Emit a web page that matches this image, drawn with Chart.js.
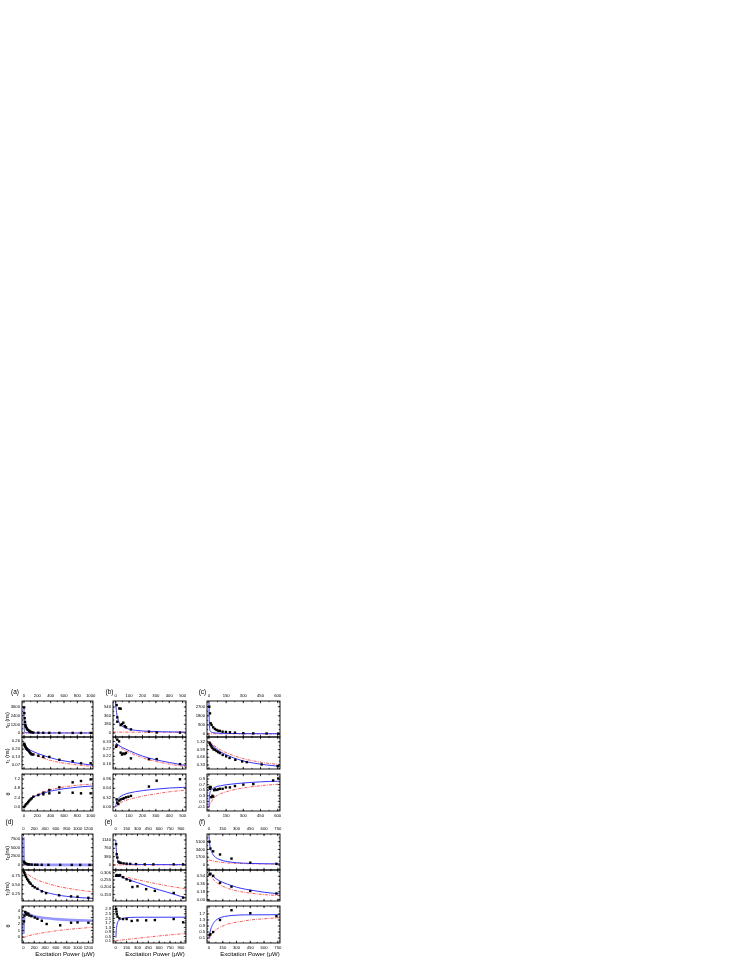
<!DOCTYPE html>
<html><head><meta charset="utf-8">
<script src="https://cdn.jsdelivr.net/npm/chart.js@4.4.0/dist/chart.umd.min.js"></script>
<style>
html,body{margin:0;padding:0;background:#fff;}
#wrap{position:relative;width:747px;height:967px;overflow:hidden;font-family:"Liberation Sans",Arial,sans-serif;}
#wrap canvas{position:absolute;}
.lbl{position:absolute;white-space:nowrap;color:#000;line-height:1;}
.lbl sub{font-size:72%;vertical-align:-0.25em;line-height:0;}
</style></head><body><div id="wrap"></div>
<script>
// ---------------- DATA ----------------
// Panel (a)
const a_xTicks = [0,200,400,600,800,1000];
const a_tauD_ticks = [0,1200,2400,3600];
const a_tauD_labels = ['0','1200','2400','3600'];
const a_tauD_pts = [[2,3550],[5,2750],[10,2050],[15,1550],[20,1150],[25,950],[30,850],[40,650],[50,500],[65,400],[80,280],[90,200],[100,150],[115,100],[140,60],[215,40],[290,30],[380,25],[530,20],[730,20],[855,15],[1000,15]];
const a_tauD_blue = [[0,3600],[1,2500],[2,1500],[3,800],[5,350],[8,150],[15,70],[40,35],[150,15],[1035,5]];
const a_tauD_red = [[-30,10],[1035,10]];
const a_tau1_ticks = [0.065,0.13,0.195,0.26];
const a_tau1_labels = ['0.07','0.13','0.20','0.26'];
const a_tau1_pts = [[2,0.24],[5,0.235],[10,0.226],[15,0.22],[20,0.215],[30,0.202],[40,0.197],[50,0.19],[65,0.183],[80,0.174],[90,0.165],[100,0.159],[115,0.15],[140,0.15],[215,0.14],[290,0.13],[380,0.13],[530,0.106],[730,0.094],[855,0.077],[1000,0.077]];
const a_tau1_blue = [[0,0.245],[25,0.22],[50,0.205],[100,0.185],[200,0.16],[300,0.14],[400,0.122],[500,0.108],[600,0.097],[700,0.087],[800,0.078],[900,0.07],[1000,0.063],[1035,0.06]];
const a_tau1_red = [[0,0.24],[25,0.21],[50,0.195],[100,0.17],[200,0.14],[300,0.118],[400,0.1],[500,0.088],[600,0.078],[700,0.07],[800,0.063],[900,0.057],[1000,0.052],[1035,0.05]];
const a_th_ticks = [0,2.4,4.8,7.2];
const a_th_labels = ['0.0','2.4','4.8','7.2'];
const a_th_pts = [[2,0.0],[15,0.33],[30,0.69],[49,0.94],[64,1.29],[79,1.63],[100,1.97],[115,2.23],[140,2.66],[215,3.08],[290,3.68],[290,3.26],[380,4.37],[380,3.52],[530,5.06],[530,3.68],[730,6.34],[730,3.68],[855,6.68],[855,3.52],[1000,7.11],[1000,3.52]];
const a_th_blue = [[0,0],[25,0.6],[50,1.2],[100,2.0],[150,2.6],[200,3.0],[300,3.6],[400,4.1],[500,4.4],[600,4.7],[700,4.9],[800,5.1],[900,5.25],[1035,5.4]];
const a_th_red = [[0,0],[25,0.65],[50,1.25],[100,2.1],[150,2.75],[200,3.2],[300,3.9],[400,4.45],[500,4.85],[600,5.15],[700,5.4],[800,5.6],[900,5.75],[1035,5.9]];

// Panel (b)
const b_xTicks = [0,100,200,300,400,500];
const b_tauD_ticks = [0,180,360,540];
const b_tauD_labels = ['0','180','360','540'];
const b_tauD_pts = [[7,580],[27,510],[37,505],[12,325],[12,235],[37,165],[47,185],[57,215],[67,145],[77,120],[114,75],[248,28],[306,10],[480,8]];
const b_tauD_blue = [[0,640],[3,520],[7,420],[12,340],[20,260],[30,200],[45,150],[70,110],[100,80],[150,55],[250,35],[350,25],[525,18]];
const b_tauD_red = [[-20,18],[525,15]];
const b_tau1_ticks = [0.165,0.22,0.275,0.33];
const b_tau1_labels = ['0.16','0.22','0.27','0.33'];
const b_tau1_pts = [[3,0.29],[7,0.30],[12,0.343],[25,0.33],[37,0.247],[47,0.233],[57,0.241],[67,0.237],[77,0.245],[114,0.205],[248,0.199],[306,0.2],[480,0.163]];
const b_tau1_blue = [[0,0.318],[25,0.3],[50,0.285],[100,0.262],[200,0.222],[300,0.195],[400,0.175],[500,0.157],[525,0.153]];
const b_tau1_red = [[0,0.306],[25,0.29],[50,0.275],[100,0.25],[200,0.21],[300,0.183],[400,0.163],[500,0.148],[525,0.145]];
const b_th_ticks = [0,0.32,0.64,0.96];
const b_th_labels = ['0.00','0.32','0.64','0.96'];
const b_th_pts = [[7,0.26],[12,0.15],[20,0.10],[27,0.22],[37,0.26],[52,0.28],[62,0.30],[77,0.33],[95,0.35],[114,0.38],[248,0.70],[306,0.90],[480,0.95]];
const b_th_blue = [[0,0.0],[5,0.15],[15,0.27],[30,0.34],[60,0.42],[100,0.48],[200,0.56],[300,0.61],[400,0.65],[500,0.67],[525,0.68]];
const b_th_red = [[0,0.0],[20,0.1],[50,0.18],[100,0.26],[200,0.37],[300,0.45],[400,0.52],[525,0.58]];

// Panel (c)
const c_xTicks = [0,150,300,450,600];
const c_tauD_ticks = [0,900,1800,2700];
const c_tauD_labels = ['0','900','1800','2700'];
const c_tauD_pts = [[3,2700],[9,2040],[15,1060],[23,890],[37,660],[52,500],[66,400],[81,330],[95,300],[119,230],[148,200],[183,170],[227,130],[300,80],[387,60],[503,50],[605,40]];
const c_tauD_blue = [[0,3100],[1,2600],[2,1900],[3,1300],[5,700],[8,400],[15,230],[30,150],[60,100],[150,60],[400,35],[620,25]];
const c_tauD_red = [[-17,20],[620,20]];
const c_tau1_ticks = [0.33,0.66,0.99,1.32];
const c_tau1_labels = ['0.33','0.66','0.99','1.32'];
const c_tau1_pts = [[5,1.28],[10,1.22],[15,1.18],[22,1.12],[30,1.06],[40,1.0],[52,0.98],[66,0.93],[81,0.88],[96,0.84],[120,0.76],[150,0.7],[180,0.63],[230,0.55],[290,0.48],[330,0.45],[460,0.35],[600,0.28]];
const c_tau1_blue = [[0,1.32],[25,1.2],[50,1.08],[100,0.9],[150,0.77],[200,0.66],[300,0.5],[400,0.4],[500,0.33],[620,0.27]];
const c_tau1_red = [[0,1.35],[25,1.25],[50,1.15],[100,0.98],[150,0.86],[200,0.76],[300,0.6],[400,0.49],[500,0.41],[620,0.35]];
const c_th_ticks = [-0.1,0.1,0.3,0.5,0.7,0.9];
const c_th_labels = ['-0.1','0.1','0.3','0.5','0.7','0.9'];
const c_th_pts = [[5,0.6],[9,0.55],[12,0.62],[15,0.6],[20,0.25],[30,0.3],[37,0.27],[45,0.5],[52,0.53],[66,0.51],[81,0.53],[95,0.55],[119,0.55],[148,0.6],[183,0.6],[227,0.65],[300,0.7],[387,0.72],[560,0.85],[605,0.92]];
const c_th_blue = [[0,-0.12],[3,0.2],[8,0.4],[20,0.5],[50,0.6],[100,0.66],[200,0.72],[300,0.76],[450,0.8],[600,0.82],[620,0.82]];
const c_th_red = [[0,-0.12],[10,0.0],[30,0.15],[60,0.28],[100,0.37],[200,0.5],[300,0.58],[450,0.66],[620,0.72]];

// Panel (d)
const d_xTicks = [0,200,400,600,800,1000,1200];
const d_tauD_ticks = [0,2500,5000,7500];
const d_tauD_labels = ['0','2500','5000','7500'];
const d_tauD_pts = [[10,950],[20,700],[30,500],[50,400],[74,250],[92,200],[111,180],[154,120],[216,80],[259,60],[339,50],[463,40],[679,30],[894,30],[1048,25],[1221,20]];
const d_tauD_blue = [[0,8000],[2,6000],[4,3500],[7,1800],[10,1000],[15,600],[25,350],[50,180],[120,80],[400,40],[1285,25]];
const d_tauD_red = [[-25,15],[1285,15]];
const d_tau1_ticks = [0.25,0.5,0.75];
const d_tau1_labels = ['0.25','0.50','0.75'];
const d_tau1_pts = [[10,0.86],[20,0.82],[35,0.77],[50,0.72],[70,0.66],[90,0.62],[110,0.57],[135,0.53],[170,0.47],[210,0.43],[260,0.39],[340,0.32],[420,0.27],[660,0.21],[880,0.18],[1000,0.17],[1200,0.14]];
const d_tau1_blue = [[0,0.88],[25,0.8],[50,0.72],[100,0.6],[150,0.52],[200,0.45],[300,0.36],[400,0.3],[500,0.26],[700,0.2],[900,0.165],[1100,0.14],[1285,0.125]];
const d_tau1_red = [[0,0.88],[50,0.82],[100,0.77],[200,0.68],[300,0.61],[400,0.56],[600,0.47],[800,0.41],[1000,0.36],[1200,0.32],[1285,0.31]];
const d_th_ticks = [0,1,2,3,4];
const d_th_labels = ['0','1','2','3','4'];
const d_th_pts = [[10,2.4],[20,3.3],[35,3.85],[50,3.6],[70,3.45],[90,3.6],[110,3.3],[150,3.2],[210,3.0],[260,2.8],[340,2.5],[430,2.0],[680,1.8],[880,2.2],[1000,2.25],[1200,2.2]];
const d_th_blue = [[3,0.5],[6,1.5],[10,2.4],[15,3.1],[25,3.6],[40,3.8],[70,3.7],[120,3.45],[200,3.2],[350,2.95],[600,2.75],[900,2.6],[1285,2.5]];
const d_th_red = [[0,-0.1],[50,0.05],[100,0.2],[200,0.4],[400,0.7],[600,0.95],[800,1.15],[1000,1.3],[1285,1.5]];

// Panel (e)
const e_xTicks = [0,150,300,450,600,750,900];
const e_tauD_ticks = [0,380,760,1140];
const e_tauD_labels = ['0','380','760','1140'];
const e_tauD_pts = [[5,950],[13,490],[22,340],[36,150],[50,110],[68,100],[107,75],[150,60],[200,50],[280,40],[400,30],[520,30],[800,30],[930,30]];
const e_tauD_blue = [[0,1150],[3,1000],[6,800],[10,600],[15,420],[25,250],[40,150],[70,90],[120,55],[250,30],[500,20],[970,15]];
const e_tauD_red = [[-38,5],[970,5]];
const e_tau1_ticks = [0.153,0.204,0.255,0.306];
const e_tau1_labels = ['0.153','0.204','0.255','0.306'];
const e_tau1_pts = [[5,0.285],[15,0.29],[25,0.288],[40,0.285],[60,0.29],[100,0.275],[150,0.26],[200,0.25],[230,0.205],[300,0.21],[420,0.19],[540,0.178],[800,0.163],[930,0.13]];
const e_tau1_blue = [[0,0.29],[50,0.283],[100,0.272],[200,0.253],[300,0.236],[400,0.218],[500,0.2],[600,0.185],[700,0.17],[800,0.155],[900,0.138],[970,0.128]];
const e_tau1_red = [[0,0.29],[100,0.28],[200,0.268],[300,0.257],[400,0.246],[500,0.235],[600,0.225],[700,0.215],[800,0.206],[970,0.192]];
const e_th_ticks = [0.1,0.5,0.9,1.3,1.7,2.1,2.5,2.9];
const e_th_labels = ['0.1','0.5','0.9','1.3','1.7','2.1','2.5','2.9'];
const e_th_pts = [[5,2.93],[10,2.7],[15,2.46],[25,2.25],[50,2.1],[100,2.04],[150,2.04],[220,1.87],[300,1.92],[420,1.92],[540,1.95],[800,2.04],[930,1.75]];
const e_th_blue = [[2,0.4],[6,0.9],[12,1.3],[20,1.6],[35,1.85],[60,2.0],[100,2.1],[200,2.18],[400,2.2],[970,2.2]];
const e_th_red = [[0,0.12],[100,0.2],[200,0.27],[400,0.41],[600,0.55],[800,0.67],[970,0.77]];

// Panel (f)
const f_xTicks = [0,150,300,450,600,750];
const f_tauD_ticks = [0,1700,3400,5100];
const f_tauD_labels = ['0','1700','3400','5100'];
const f_tauD_pts = [[5,5100],[15,3600],[45,3000],[120,2300],[245,1400],[450,500],[735,250]];
const f_tauD_blue = [[0,6300],[5,5000],[10,4200],[20,3300],[40,2400],[70,1700],[120,1150],[200,750],[300,500],[450,350],[600,280],[774,230]];
const f_tauD_red = [[0,1100],[30,950],[80,750],[150,550],[250,400],[400,300],[600,230],[774,200]];
const f_tau1_ticks = [0,0.18,0.36,0.54];
const f_tau1_labels = ['0.00','0.18','0.36','0.54'];
const f_tau1_pts = [[5,0.58],[15,0.6],[45,0.55],[120,0.39],[245,0.3],[450,0.2],[735,0.14]];
const f_tau1_blue = [[0,0.62],[15,0.6],[50,0.53],[100,0.45],[150,0.4],[250,0.32],[350,0.26],[450,0.22],[600,0.17],[774,0.13]];
const f_tau1_red = [[0,0.6],[15,0.56],[50,0.46],[100,0.37],[150,0.31],[250,0.23],[350,0.18],[450,0.15],[600,0.115],[774,0.09]];
const f_th_ticks = [0.1,0.5,0.9,1.3,1.7];
const f_th_labels = ['0.1','0.5','0.9','1.3','1.7'];
const f_th_pts = [[5,0.3],[15,0.35],[45,0.5],[120,1.3],[245,1.95],[450,1.75],[735,1.55]];
const f_th_blue = [[0,0.1],[8,0.4],[20,0.7],[40,1.0],[70,1.25],[110,1.42],[170,1.53],[250,1.6],[400,1.64],[774,1.65]];
const f_th_red = [[0,0.02],[20,0.25],[50,0.5],[100,0.75],[170,0.95],[250,1.1],[350,1.2],[450,1.3],[600,1.38],[774,1.45]];

// ---------------- LAYOUT ----------------
const FONT = "'Liberation Sans', Arial, sans-serif";
const TICK_FONT = 4.2;
const BLUE = 'rgb(55,55,250)';
const BLUE_LIGHT = 'rgb(150,150,255)';
const RED = 'rgb(255,70,70)';
const COLS = [{left:22,w:71},{left:113,w:73},{left:207,w:73}];
const ROWS = [[701,737,774,811],[834,870,906,943]];
const wrap = document.getElementById('wrap');

const toXY = arr => arr.map(p => ({x:p[0], y:p[1]}));

function mkDatasets(pts, blue, red, thickBlue) {
  return [
    {data:toXY(pts), showLine:false, pointStyle:'rect', pointRadius:1.7, pointBackgroundColor:'#000', pointBorderWidth:0, borderWidth:0, order:0},
    {data:toXY(blue), borderColor: thickBlue ? BLUE_LIGHT : BLUE, borderWidth: thickBlue ? 2.6 : 1, pointRadius:0, cubicInterpolationMode:'monotone', fill:false, order:1},
    {data:toXY(red), borderColor:RED, borderWidth:0.9, borderDash:[3,1.2,0.8,1.2], pointRadius:0, cubicInterpolationMode:'monotone', fill:false, order:2}
  ];
}

function minorsOf(t, min, max) {
  const step = (t[1]-t[0]) / 2, out = [];
  for (let k = -20; k < 60; k++) {
    const v = t[0] + k*step;
    if (v >= min - 1e-9 && v <= max + 1e-9) out.push(v);
  }
  return out;
}

function addChart(o) {
  const L = 22, R = 12;
  const T = o.hasTop ? 12 : 5, B = o.hasBottom ? 12 : 5;
  const w = o.w, h = o.bottom - o.top;
  const cv = document.createElement('canvas');
  cv.width = L + w + R; cv.height = T + h + B;
  cv.style.left = (o.left - L) + 'px';
  cv.style.top = (o.top - T) + 'px';
  wrap.appendChild(cv);
  const showX = o.hasTop || o.hasBottom;
  const boxPlugin = {
    id: 'boxticks',
    afterDraw(chart) {
      const ctx = chart.ctx, a = chart.chartArea, xs = chart.scales.x, ys = chart.scales.y;
      ctx.save();
      ctx.strokeStyle = '#111';
      ctx.lineWidth = 0.8;
      ctx.beginPath();
      const xMaj = o.xTicks, xMin = minorsOf(o.xTicks, o.xr[0], o.xr[1]);
      const yMaj = o.yTicks, yMin = minorsOf(o.yTicks, o.yr[0], o.yr[1]);
      const xt = (v, len) => { const p = xs.getPixelForValue(v); if (p < a.left || p > a.right) return;
        ctx.moveTo(p, a.top); ctx.lineTo(p, a.top + len); ctx.moveTo(p, a.bottom); ctx.lineTo(p, a.bottom - len); };
      const yt = (v, len) => { const p = ys.getPixelForValue(v); if (p < a.top || p > a.bottom) return;
        ctx.moveTo(a.left, p); ctx.lineTo(a.left + len, p); ctx.moveTo(a.right, p); ctx.lineTo(a.right - len, p); };
      xMin.forEach(v => xt(v, 1.2)); xMaj.forEach(v => xt(v, 2.2));
      yMin.forEach(v => yt(v, 1.2)); yMaj.forEach(v => yt(v, 2.2));
      ctx.stroke();
      ctx.strokeStyle = '#000';
      ctx.lineWidth = 0.9;
      ctx.strokeRect(a.left, a.top, a.right - a.left, a.bottom - a.top);
      ctx.restore();
    }
  };
  new Chart(cv, {
    type: 'line',
    data: {datasets: o.datasets},
    options: {
      responsive: false, maintainAspectRatio: false, animation: false, devicePixelRatio: 1,
      layout: {autoPadding: false, padding: {left: 0, right: R, top: o.hasTop ? 0 : T, bottom: o.hasBottom ? 0 : B}},
      plugins: {legend: {display: false}, tooltip: {enabled: false}},
      scales: {
        x: {
          type: 'linear', bounds: 'data', min: o.xr[0], max: o.xr[1],
          position: o.hasTop ? 'top' : 'bottom', display: showX,
          afterBuildTicks: s => { s.ticks = o.xTicks.map(v => ({value: v})); },
          afterFit: s => { s.height = o.hasTop ? T : B; },
          grid: {display: false, drawTicks: false}, border: {display: false},
          ticks: {autoSkip: false, maxRotation: 0, minRotation: 0, padding: o.hasTop ? 3 : 2,
                  color: '#000', font: {size: TICK_FONT, family: FONT}, callback: v => String(v)}
        },
        y: {
          type: 'linear', bounds: 'data', min: o.yr[0], max: o.yr[1], position: 'left',
          afterBuildTicks: s => { s.ticks = o.yTicks.map(v => ({value: v})); },
          afterFit: s => { s.width = L; },
          grid: {display: false, drawTicks: false}, border: {display: false},
          ticks: {autoSkip: false, padding: 2, color: '#000', font: {size: TICK_FONT, family: FONT},
                  callback: (v) => { let bi = 0, bd = 1e99; o.yTicks.forEach((t, i) => { const d = Math.abs(t - v); if (d < bd) { bd = d; bi = i; } }); return o.yLabels[bi]; }}
        }
      }
    },
    plugins: [boxPlugin]
  });
}

const panels = [
  {col:0, row:0, xr:[-30,1035], xTicks:a_xTicks, subs:[
    {yr:[-550,4430], ticks:a_tauD_ticks, labels:a_tauD_labels, pts:a_tauD_pts, blue:a_tauD_blue, red:a_tauD_red},
    {yr:[0.029,0.296], ticks:a_tau1_ticks, labels:a_tau1_labels, pts:a_tau1_pts, blue:a_tau1_blue, red:a_tau1_red},
    {yr:[-1.03,8.49], ticks:a_th_ticks, labels:a_th_labels, pts:a_th_pts, blue:a_th_blue, red:a_th_red}]},
  {col:1, row:0, xr:[-20,525], xTicks:b_xTicks, subs:[
    {yr:[-83,665], ticks:b_tauD_ticks, labels:b_tauD_labels, pts:b_tauD_pts, blue:b_tauD_blue, red:b_tauD_red},
    {yr:[0.127,0.362], ticks:b_tau1_ticks, labels:b_tau1_labels, pts:b_tau1_pts, blue:b_tau1_blue, red:b_tau1_red},
    {yr:[-0.137,1.13], ticks:b_th_ticks, labels:b_th_labels, pts:b_th_pts, blue:b_th_blue, red:b_th_red}]},
  {col:2, row:0, xr:[-17,620], xTicks:c_xTicks, subs:[
    {yr:[-297,3264], ticks:c_tauD_ticks, labels:c_tauD_labels, pts:c_tauD_pts, blue:c_tauD_blue, red:c_tauD_red},
    {yr:[0.155,1.53], ticks:c_tau1_ticks, labels:c_tau1_labels, pts:c_tau1_pts, blue:c_tau1_blue, red:c_tau1_red},
    {yr:[-0.243,1.08], ticks:c_th_ticks, labels:c_th_labels, pts:c_th_pts, blue:c_th_blue, red:c_th_red}]},
  {col:0, row:1, xr:[-25,1285], xTicks:d_xTicks, subs:[
    {yr:[-1440,8940], ticks:d_tauD_ticks, labels:d_tauD_labels, pts:d_tauD_pts, blue:d_tauD_blue, red:d_tauD_red, thick:true},
    {yr:[0.052,0.91], ticks:d_tau1_ticks, labels:d_tau1_labels, pts:d_tau1_pts, blue:d_tau1_blue, red:d_tau1_red},
    {yr:[-0.92,4.77], ticks:d_th_ticks, labels:d_th_labels, pts:d_th_pts, blue:d_th_blue, red:d_th_red, thick:true}]},
  {col:1, row:1, xr:[-38,970], xTicks:e_xTicks, subs:[
    {yr:[-228,1414], ticks:e_tauD_ticks, labels:e_tauD_labels, pts:e_tauD_pts, blue:e_tauD_blue, red:e_tauD_red},
    {yr:[0.106,0.326], ticks:e_tau1_ticks, labels:e_tau1_labels, pts:e_tau1_pts, blue:e_tau1_blue, red:e_tau1_red},
    {yr:[-0.077,3.19], ticks:e_th_ticks, labels:e_th_labels, pts:e_th_pts, blue:e_th_blue, red:e_th_red}]},
  {col:2, row:1, xr:[-22,774], xTicks:f_xTicks, subs:[
    {yr:[-1095,6786], ticks:f_tauD_ticks, labels:f_tauD_labels, pts:f_tauD_pts, blue:f_tauD_blue, red:f_tauD_red},
    {yr:[-0.034,0.686], ticks:f_tau1_ticks, labels:f_tau1_labels, pts:f_tau1_pts, blue:f_tau1_blue, red:f_tau1_red},
    {yr:[-0.23,2.23], ticks:f_th_ticks, labels:f_th_labels, pts:f_th_pts, blue:f_th_blue, red:f_th_red}]}
];

panels.forEach(p => {
  const c = COLS[p.col], r = ROWS[p.row];
  p.subs.forEach((s, i) => {
    addChart({left: c.left, w: c.w, top: r[i], bottom: r[i+1], xr: p.xr, xTicks: p.xTicks,
      yr: s.yr, yTicks: s.ticks, yLabels: s.labels, hasTop: i === 0, hasBottom: i === 2,
      datasets: mkDatasets(s.pts, s.blue, s.red, !!s.thick)});
  });
});

// ---------------- TEXT ----------------
function addText(html, x, y, size, rotate) {
  const d = document.createElement('div');
  d.className = 'lbl';
  d.innerHTML = html;
  d.style.fontSize = size + 'px';
  d.style.left = x + 'px';
  d.style.top = y + 'px';
  d.style.transform = 'translate(-50%,-50%)' + (rotate ? ' rotate(-90deg)' : '');
  wrap.appendChild(d);
}
const panelLetters = ['(a)','(b)','(c)','(d)','(e)','(f)'];
const letterPos = [[15,692],[109.5,692],[202.5,692],[9.5,822],[108.5,822],[202,822]];
panelLetters.forEach((t, i) => addText(t, letterPos[i][0], letterPos[i][1], 6.5));
const xTitle = 'Excitation Power (&mu;W)';
[65, 155, 250].forEach(cx => addText(xTitle, cx, 954, 6));
addText('&tau;<sub>D</sub> (ns)', 7.5, 720, 5.4, true);
addText('&tau;<sub>1</sub> (ns)', 7.5, 756, 5.4, true);
addText('&theta;', 8.5, 794, 5.6, true);
addText('&tau;<sub>D</sub>(ns)', 7.5, 853, 5.4, true);
addText('&tau;<sub>1</sub>(ns)', 7.5, 889, 5.4, true);
addText('&theta;', 8.5, 926, 5.6, true);
</script></body></html>
